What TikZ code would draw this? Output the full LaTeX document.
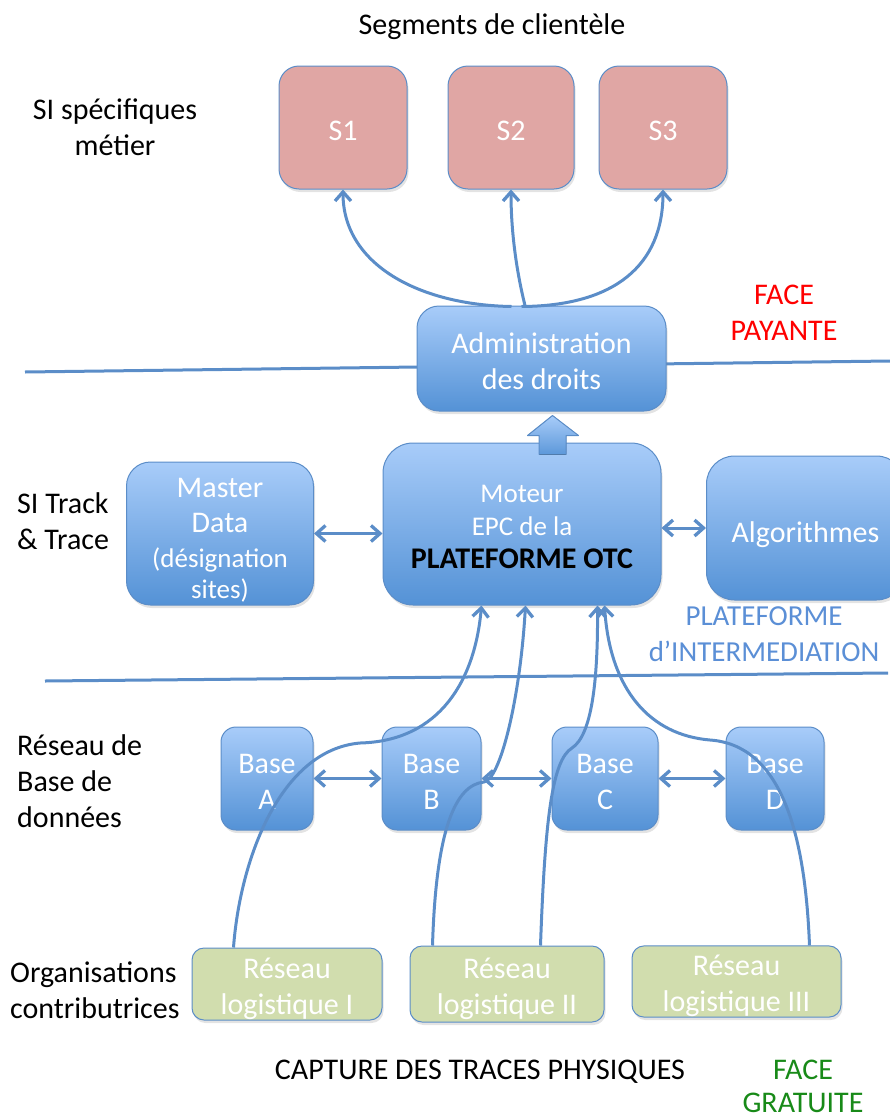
\documentclass[tikz,border=0pt]{standalone}
\usepackage{fontspec}
\setmainfont{Carlito}
\usetikzlibrary{arrows.meta,shadows,calc}
\definecolor{edge}{RGB}{91,141,200}
\definecolor{topblue}{RGB}{168,204,249}
\definecolor{botblue}{RGB}{84,146,214}
\definecolor{pinkfill}{RGB}{224,166,164}
\definecolor{greenfill}{RGB}{209,221,174}
\definecolor{labelblue}{RGB}{91,143,214}
\definecolor{facegreen}{RGB}{24,138,24}
\newcommand{\mytop}[1]{\rule{0pt}{#1}}
\tikzset{
 boxbase/.style={draw=edge, line width=1pt, drop shadow={shadow xshift=1.5pt,shadow yshift=-3pt,opacity=0.22}, text=white, align=center, font=\fontsize{30}{36}\selectfont, inner sep=0pt},
 bluebox/.style={boxbase, top color=topblue, bottom color=botblue},
 pinkbox/.style={boxbase, fill=pinkfill, rounded corners=20pt},
 greenbox/.style={boxbase, fill=greenfill, rounded corners=12pt},
 conn/.style={draw=edge, line width=3pt, -{Straight Barb[length=9pt,width=16pt,line width=3.3pt]}},
 dbl/.style={draw=edge, line width=3pt, {Straight Barb[length=9pt,width=16pt,line width=3.3pt]}-{Straight Barb[length=9pt,width=16pt,line width=3.3pt]}},
 sepline/.style={draw=edge, line width=3pt},
 lbl/.style={font=\fontsize{30}{36}\selectfont, align=center, inner sep=0pt},
}
\begin{document}
\begin{tikzpicture}[x=1pt,y=-1pt]
\useasboundingbox (0,0) rectangle (890,1119);
% separators
\draw[sepline] (25,372) -- (890,361);
\draw[sepline] (45,681) -- (888,673);
% labels
\node[lbl] (title) at (492,27) {Segments de clientèle};
\node[lbl] (lsi) at (115,127) {SI spécifiques\\métier};
\node[lbl, align=left, anchor=west] (ltt) at (17,521) {SI Track\\\& Trace};
\node[lbl, align=left, anchor=west] (lbd) at (17,781) {Réseau de\\Base de\\données};
\node[lbl, align=left, anchor=west] (lorg) at (10,990) {Organisations\\contributrices};
\node[lbl] (lcap) at (480,1072) {CAPTURE DES TRACES PHYSIQUES};
\node[lbl, text=facegreen, font=\fontsize{30}{33}\selectfont] (lfg) at (803,1086) {FACE\\GRATUITE};
\node[lbl, text=red] (lfp) at (784,313) {FACE\\PAYANTE};
\node[lbl, text=labelblue, font=\fontsize{29}{36}\selectfont] (lpi) at (764,634) {PLATEFORME\\d’INTERMEDIATION};
% segment boxes
\node[pinkbox, minimum width=128pt, minimum height=123pt] (s1) at (343,127.5) {\mytop{27pt}S1};
\node[pinkbox, minimum width=126pt, minimum height=123pt] (s2) at (511,127.5) {\mytop{27pt}S2};
\node[pinkbox, minimum width=128pt, minimum height=123pt] (s3) at (663,127.5) {\mytop{27pt}S3};
% admin
\node[bluebox, rounded corners=22pt, minimum width=249pt, minimum height=105pt] (adm) at (541.5,358.5) {\mytop{27pt}Administration\\des droits};
% middle
\node[bluebox, rounded corners=24pt, minimum width=187pt, minimum height=143pt, font=\fontsize{30}{35}\selectfont] (md) at (220,533.5)
 {\mytop{33pt}Master\\Data\\\fontsize{27}{35}\selectfont(désignation\\[-4pt]\fontsize{27}{35}\selectfont sites)};
\node[bluebox, rounded corners=30pt, minimum width=278pt, minimum height=162pt, font=\fontsize{27}{33}\selectfont] (mot) at (522,524)
 {\mytop{24pt}Moteur\\EPC de la\\\fontsize{30}{33}\selectfont\bfseries\color{black}PLATEFORME OTC};
\node[bluebox, rounded corners=28pt, minimum width=198pt, minimum height=144pt] (alg) at (805.5,528) {\mytop{34pt}Algorithmes};
% bases
\node[bluebox, rounded corners=15pt, minimum width=92pt, minimum height=103pt] (ba) at (267,778.5) {\mytop{26pt}Base\\A};
\node[bluebox, rounded corners=15pt, minimum width=99pt, minimum height=103pt] (bb) at (431.5,778.5) {\mytop{26pt}Base\\B};
\node[bluebox, rounded corners=15pt, minimum width=106pt, minimum height=103pt] (bc) at (605,778.5) {\mytop{26pt}Base\\C};
\node[bluebox, rounded corners=15pt, minimum width=98pt, minimum height=103pt] (bd) at (775,778.5) {\mytop{26pt}Base\\D};
% logistic networks
\node[greenbox, minimum width=190pt, minimum height=72pt] (g1) at (287,984) {\mytop{30pt}Réseau\\logistique I};
\node[greenbox, minimum width=194pt, minimum height=76pt] (g2) at (507,984) {\mytop{30pt}Réseau\\logistique II};
\node[greenbox, minimum width=209pt, minimum height=71pt] (g3) at (736.5,981.5) {\mytop{30pt}Réseau\\logistique III};
% block arrow moteur -> admin
\coordinate (ba0) at ($(mot.north)+(17,12)$);
\coordinate (ba1) at ($(mot.north)+(17,-7)$);
\coordinate (ba2) at ($(mot.north)+(5.5,-7)$);
\coordinate (ba3) at ($(mot.north)+(30.5,-27)$);
\coordinate (ba4) at ($(mot.north)+(56.5,-7)$);
\coordinate (ba5) at ($(mot.north)+(44,-7)$);
\coordinate (ba6) at ($(mot.north)+(44,12)$);
\fill[top color=topblue, bottom color=botblue!90!topblue] (ba0) -- (ba1) -- (ba2) -- (ba3) -- (ba4) -- (ba5) -- (ba6) -- cycle;
\draw[edge, line width=1pt, line join=round] (ba0) -- (ba1) -- (ba2) -- (ba3) -- (ba4) -- (ba5) -- (ba6);
% admin -> segments
\coordinate (a1) at ($(adm.north)+(-30,1)$);
\coordinate (a2) at ($(adm.north)+(-16,2)$);
\coordinate (a3) at ($(adm.north)+(-20,1)$);
\draw[conn] (a1) .. controls (420,305) and (343,265) .. (s1.south);
\draw[conn] (a2) .. controls (516,270) and (511,230) .. (s2.south);
\draw[conn] (a3) .. controls (615,306) and (663,265) .. (s3.south);
% double arrows
\draw[dbl] (md.east) -- (md.east -| mot.west);
\draw[dbl] (alg.west -| mot.east) -- (alg.west);
\draw[dbl] (ba.east) -- (bb.west);
\draw[dbl] (bb.east) -- (bc.west);
\draw[dbl] (bc.east) -- (bd.west);
% curves from networks to moteur
\coordinate (g1t) at ($(g1.north west)+(42,0)$);
\coordinate (g2l) at ($(g2.north west)+(23,0)$);
\coordinate (g2r) at ($(g2.north west)+(131,0)$);
\coordinate (g3t) at ($(g3.north west)+(178,0)$);
\coordinate (m1) at ($(mot.south west)+(99,0)$);
\coordinate (m2) at ($(mot.south west)+(143,0)$);
\coordinate (m3) at ($(mot.south west)+(215,0)$);
\coordinate (m4) at ($(mot.south west)+(222,0)$);
\draw[conn] (g1t) .. controls (240,860) and (280,750) .. (360,743) .. controls (440,741) and (475,680) .. (m1);
\draw[conn] (g2l) .. controls (436,830) and (455,785) .. (484,782) .. controls (500,780) and (520,700) .. (m2);
\draw[conn] (g2r) .. controls (545,820) and (552,760) .. (572,748) .. controls (592,735) and (598,680) .. (m3);
\draw[conn] (g3t) .. controls (805,830) and (780,745) .. (710,740) .. controls (650,735) and (610,690) .. (m4);
\end{tikzpicture}
\end{document}
